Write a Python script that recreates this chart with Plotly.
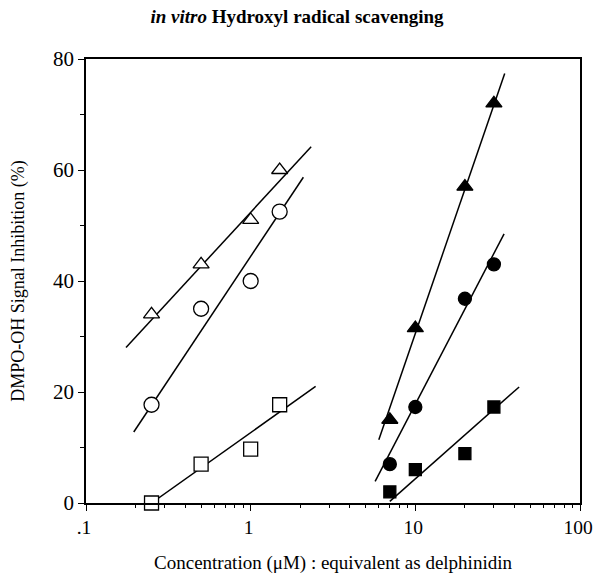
import plotly.graph_objects as go

# Data
conc_low = [0.25, 0.5, 1.0, 1.5]
open_tri = [34, 43, 51, 60]
open_circ = [17.7, 35, 40, 52.5]
open_sq = [0, 7, 9.7, 17.7]

conc_high = [7, 10, 20, 30]
fill_tri = [15, 31.5, 57, 72]
fill_circ = [7, 17.3, 36.8, 43]
fill_sq = [2, 6, 8.9, 17.3]

# Regression line end points
fit_open_tri_x = [0.175, 2.33]
fit_open_tri_y = [28, 64.2]
fit_open_circ_x = [0.195, 2.09]
fit_open_circ_y = [12.8, 58.7]
fit_open_sq_x = [0.25, 2.48]
fit_open_sq_y = [0, 21]
fit_fill_tri_x = [6.0, 34.9]
fit_fill_tri_y = [11.4, 77.4]
fit_fill_circ_x = [5.7, 34.6]
fit_fill_circ_y = [3.9, 48.5]
fit_fill_sq_x = [7.0, 42.7]
fit_fill_sq_y = [0.3, 20.9]

x_tickvals = [0.1, 1, 10, 100]
x_ticktext = [".1", "1", "10", "100"]
x_minor = [0.2, 0.3, 0.4, 0.5, 0.6, 0.7, 0.8, 0.9, 2, 3, 4, 5, 6, 7, 8, 9,
           20, 30, 40, 50, 60, 70, 80, 90]
y_tickvals = [0, 20, 40, 60, 80]

FONT = "Liberation Serif"

fig = go.Figure()

for fx, fy in [(fit_open_tri_x, fit_open_tri_y), (fit_open_circ_x, fit_open_circ_y),
               (fit_open_sq_x, fit_open_sq_y), (fit_fill_tri_x, fit_fill_tri_y),
               (fit_fill_circ_x, fit_fill_circ_y), (fit_fill_sq_x, fit_fill_sq_y)]:
    fig.add_trace(go.Scatter(x=fx, y=fy, mode="lines",
                             line=dict(color="black", width=1.5),
                             showlegend=False, hoverinfo="skip"))

def pts(x, y, symbol, size, filled):
    fig.add_trace(go.Scatter(
        x=x, y=y, mode="markers", cliponaxis=False, showlegend=False,
        marker=dict(symbol=symbol, size=size,
                    color="black" if filled else "white",
                    line=dict(color="black", width=1.3))))

pts(conc_low, open_tri, "triangle-up", 14, False)
pts(conc_low, open_circ, "circle", 15, False)
pts(conc_low, open_sq, "square", 14, False)
pts(conc_high, fill_tri, "triangle-up", 14, True)
pts(conc_high, fill_circ, "circle", 13, True)
pts(conc_high, fill_sq, "square", 12, True)

fig.update_layout(
    width=594, height=577,
    margin=dict(l=86, r=14, t=59, b=74),
    paper_bgcolor="white", plot_bgcolor="white",
    font=dict(family=FONT, color="black"),
    title=dict(text="<b><i>in vitro</i> Hydroxyl radical scavenging</b>",
               x=0.5, xanchor="center", y=0.972, yanchor="middle",
               font=dict(size=19, family=FONT)),
)
fig.update_xaxes(
    type="log", range=[-1, 2], automargin=False, ticklabeloverflow="allow",
    tickvals=x_tickvals, ticktext=x_ticktext, ticklabelshift=-2,
    ticks="outside", ticklen=6, tickwidth=1.2, tickcolor="black",
    minor=dict(ticks="outside", ticklen=3, tickcolor="black", tickwidth=1,
               tickvals=x_minor),
    showline=True, linecolor="black", linewidth=2, mirror=True,
    showgrid=False, zeroline=False,
    tickfont=dict(size=19.5, family=FONT),
    title=dict(text="Concentration (μM) : equivalent as delphinidin",
               font=dict(size=19, family=FONT), standoff=18),
)
fig.update_yaxes(
    range=[0, 80], tickvals=y_tickvals, automargin=False, ticklabeloverflow="allow",
    ticks="outside", ticklen=6, tickwidth=1.2, tickcolor="black",
    minor=dict(ticks="outside", ticklen=4, tickcolor="black", dtick=10, tickwidth=1),
    showline=True, linecolor="black", linewidth=1.5, mirror=True,
    showgrid=False, zeroline=False,
    tickfont=dict(size=21, family=FONT),
    title=dict(text="DMPO-OH Signal Inhibition (%)",
               font=dict(size=18, family=FONT), standoff=24),
)

# Remove the page's default body margin so the figure sits at the window origin
fig.write_html(
    "out.html",
    config={"displayModeBar": False},
    post_script="document.body.style.margin='0';document.body.style.overflow='hidden';",
)
